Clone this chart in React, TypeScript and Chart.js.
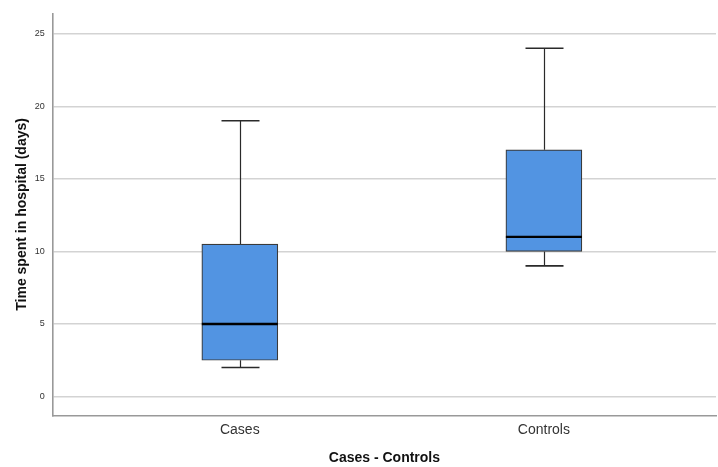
import React, { useEffect, useRef } from "react";
import { Chart, registerables } from "chart.js";

Chart.register(...registerables);

const categories = ["Cases", "Controls"];
const whiskerLow = [2, 9];
const q1 = [2.5, 10];
const medians = [5, 11];
const q3 = [10.5, 17];
const whiskerHigh = [19, 24];
const yTicks = [0, 5, 10, 15, 20, 25];

const FONT = "'Liberation Sans', Arial, sans-serif";

const boxPlugin = {
  id: "boxWhiskers",
  beforeDatasetsDraw(chart: any) {
    const { ctx, scales } = chart;
    const x = scales.x;
    const y = scales.y;
    ctx.save();
    ctx.strokeStyle = "#2a2a2a";
    categories.forEach((_, i) => {
      const px = Math.round(x.getPixelForValue(i)) + 0.5;
      const capHalf = 19;
      const yl = y.getPixelForValue(whiskerLow[i]);
      const yq1 = y.getPixelForValue(q1[i]);
      const yq3 = y.getPixelForValue(q3[i]);
      const yh = y.getPixelForValue(whiskerHigh[i]);
      ctx.lineWidth = 1.2;
      ctx.beginPath();
      ctx.moveTo(px, yq3);
      ctx.lineTo(px, yh);
      ctx.moveTo(px, yq1);
      ctx.lineTo(px, yl);
      ctx.stroke();
      ctx.lineWidth = 1.6;
      ctx.beginPath();
      ctx.moveTo(px - capHalf, yh);
      ctx.lineTo(px + capHalf, yh);
      ctx.moveTo(px - capHalf, yl);
      ctx.lineTo(px + capHalf, yl);
      ctx.stroke();
    });
    ctx.restore();
  },
  afterDatasetsDraw(chart: any) {
    const { ctx, scales } = chart;
    const x = scales.x;
    const y = scales.y;
    const meta = chart.getDatasetMeta(0);
    ctx.save();
    ctx.strokeStyle = "#000000";
    ctx.lineWidth = 2.4;
    categories.forEach((_, i) => {
      const bar = meta.data[i];
      const half = bar.width / 2;
      const px = x.getPixelForValue(i);
      const ym = y.getPixelForValue(medians[i]);
      ctx.beginPath();
      ctx.moveTo(px - half, ym);
      ctx.lineTo(px + half, ym);
      ctx.stroke();
    });
    ctx.restore();
  },
};

export default function App() {
  const ref = useRef<HTMLCanvasElement>(null);
  useEffect(() => {
    if (!ref.current) return;
    const chart = new Chart(ref.current, {
      type: "bar",
      data: {
        datasets: [
          {
            data: categories.map((_, i) => ({ x: i, y: [q1[i], q3[i]] })) as any,
            backgroundColor: "#5294E2",
            borderColor: "#3a3a3a",
            borderWidth: 1.2,
            borderSkipped: false,
            barThickness: 76,
          },
        ],
      },
      options: {
        animation: false,
        responsive: false,
        maintainAspectRatio: false,
        plugins: { legend: { display: false }, tooltip: { enabled: false } },
        layout: { padding: { top: 4, right: 2, left: 14, bottom: 0 } },
        scales: {
          x: {
            type: "linear",
            offset: false,
            min: -0.615,
            max: 1.566,
            afterBuildTicks: (s: any) => {
              s.ticks = categories.map((_, i) => ({ value: i }));
            },
            ticks: {
              callback: (v: any) => categories[v] ?? "",
              color: "#333333",
              font: { family: FONT, size: 14 },
              padding: 6,
              maxRotation: 0,
            },
            grid: { display: false, drawTicks: false, offset: false },
            border: { display: true, color: "#999999", width: 1.6 },
            title: {
              display: true,
              text: "Cases - Controls",
              color: "#111111",
              font: { family: FONT, size: 14, weight: "bold" },
              padding: { top: 6, bottom: 0 },
            },
          },
          y: {
            type: "linear",
            min: -1.3,
            max: 26.4,
            afterBuildTicks: (s: any) => {
              s.ticks = yTicks.map((v) => ({ value: v }));
            },
            ticks: {
              color: "#333333",
              font: { family: FONT, size: 9 },
              padding: 8,
            },
            grid: { color: "#d3d3d3", lineWidth: 1.5, drawTicks: false },
            border: { display: true, color: "#999999", width: 1.6 },
            title: {
              display: true,
              text: "Time spent in hospital (days)",
              color: "#111111",
              font: { family: FONT, size: 14, weight: "bold" },
              padding: { top: 0, bottom: -4 },
            },
          },
        },
      },
      plugins: [boxPlugin],
    });
    return () => chart.destroy();
  }, []);
  return (
    <div style={{ position: "absolute", left: 0, top: 0, width: 718, height: 467, background: "#ffffff" }}>
      <canvas ref={ref} width={718} height={467} style={{ display: "block" }} />
    </div>
  );
}
